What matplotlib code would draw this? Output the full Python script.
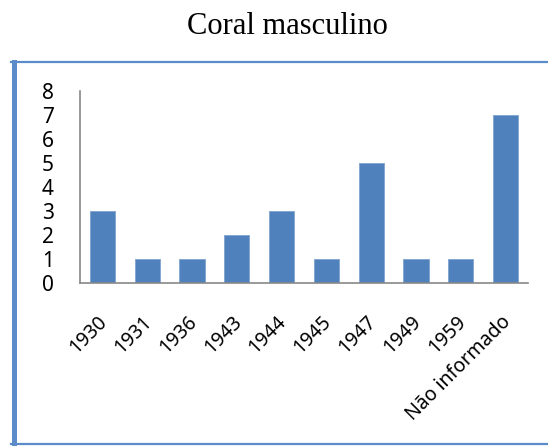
import matplotlib
matplotlib.use('Agg')
import matplotlib.pyplot as plt
from matplotlib.lines import Line2D
from matplotlib.transforms import ScaledTranslation

categories = ["1930", "1931", "1936", "1943", "1944", "1945", "1947", "1949", "1959", "Não informado"]
counts = [3, 1, 1, 2, 3, 1, 5, 1, 1, 7]
y_ticks = [0, 1, 2, 3, 4, 5, 6, 7, 8]

W, H = 548, 446
BLUE = '#4F81BD'

fig = plt.figure(figsize=(W / 100, H / 100), dpi=100)

# outer frame (right side runs off the picture)
fig.add_artist(Line2D([13.5 / W, 13.5 / W], [1 - 62 / H, 1 - 444 / H], color='#5B8BC9', lw=3.6,
                      transform=fig.transFigure))
fig.add_artist(Line2D([11 / W, 1.0], [1 - 62 / H, 1 - 62 / H], color='#5B8BC9', lw=1.6,
                      transform=fig.transFigure))
fig.add_artist(Line2D([11 / W, 1.0], [1 - 444 / H, 1 - 444 / H], color='#5B8BC9', lw=1.6,
                      transform=fig.transFigure))

fig.text(287 / W, 1 - 26 / H, "Coral masculino", ha='center', va='center',
         family='Liberation Serif', fontsize=22)

ax = fig.add_axes([80 / W, 1 - 283 / H, (528 - 80) / W, (283 - 91) / H])
x = range(len(categories))
ax.bar(x, counts, width=0.56, color=BLUE, edgecolor='#7FA3D0', linewidth=0.6)

ax.set_xlim(-0.5, len(categories) - 0.5)
ax.set_ylim(0, 8)
ax.set_yticks(y_ticks)
ax.set_yticklabels([str(v) for v in y_ticks], family='Noto Sans', fontsize=15)
ax.set_xticks(list(x))
ax.set_xticklabels(categories, rotation=45, ha='right', rotation_mode='anchor', va='center',
                   family='Noto Sans', fontsize=14)
ax.tick_params(axis='y', length=0, pad=19)
ax.tick_params(axis='x', length=0, pad=0)
shift = ScaledTranslation(2 / 100, -36 / 100, fig.dpi_scale_trans)
for lab in ax.get_xticklabels():
    lab.set_transform(lab.get_transform() + shift)

for side in ['top', 'right']:
    ax.spines[side].set_visible(False)
for side in ['left', 'bottom']:
    ax.spines[side].set_color('#888888')
    ax.spines[side].set_linewidth(1.2)

fig.savefig('out.png', dpi=100)
